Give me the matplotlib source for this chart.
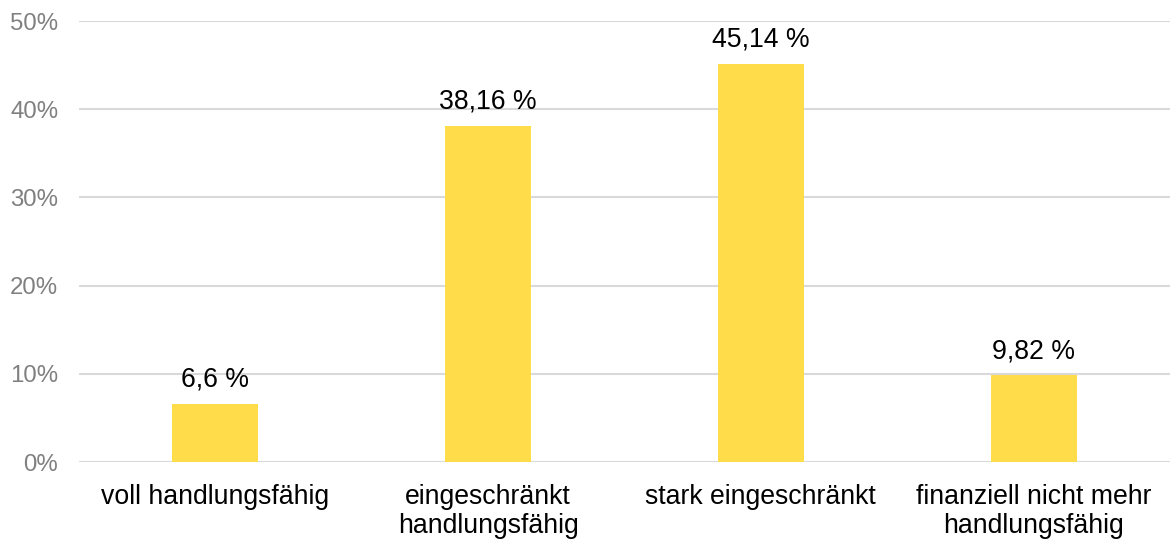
import matplotlib.pyplot as plt
from matplotlib.ticker import FuncFormatter

plt.rcParams['font.family'] = ['Liberation Sans', 'DejaVu Sans']

# daten
kategorien = ['voll handlungsfähig', 'eingeschränkt\nhandlungsfähig',
              'stark eingeschränkt', 'finanziell nicht mehr\nhandlungsfähig']
werte = [6.6, 38.16, 45.14, 9.82]
wert_labels = ['6,6 %', '38,16 %', '45,14 %', '9,82 %']

fig = plt.figure(figsize=(11.7, 5.41), dpi=100)
ax = fig.add_axes([0.0675, 0.146, 0.9325, 0.815])

x = range(len(kategorien))
bars = ax.bar(x, werte, width=0.315, color='#FFDC4A', zorder=3)

for b, lab in zip(bars, wert_labels):
    ax.annotate(lab, (b.get_x() + b.get_width() / 2, b.get_height()),
                xytext=(0, 8), textcoords='offset points',
                ha='center', va='bottom', fontsize=19.2, color='black')

ax.set_xlim(-0.5, len(kategorien) - 0.5)
ax.set_ylim(0, 50)
ax.set_yticks([0, 10, 20, 30, 40, 50])
ax.yaxis.set_major_formatter(FuncFormatter(lambda v, p: f'{int(v)}%'))
ax.grid(axis='y', color='#d9d9d9', linewidth=1.5, zorder=0)

ax.set_xticks(list(x))
ax.set_xticklabels(kategorien, fontsize=19.2, linespacing=1.12)
ax.tick_params(axis='x', length=0, pad=16)
ax.tick_params(axis='y', length=0, pad=15, labelsize=17.3, labelcolor='#808080')

for s in ax.spines.values():
    s.set_visible(False)

fig.savefig('out.png', dpi=100)
